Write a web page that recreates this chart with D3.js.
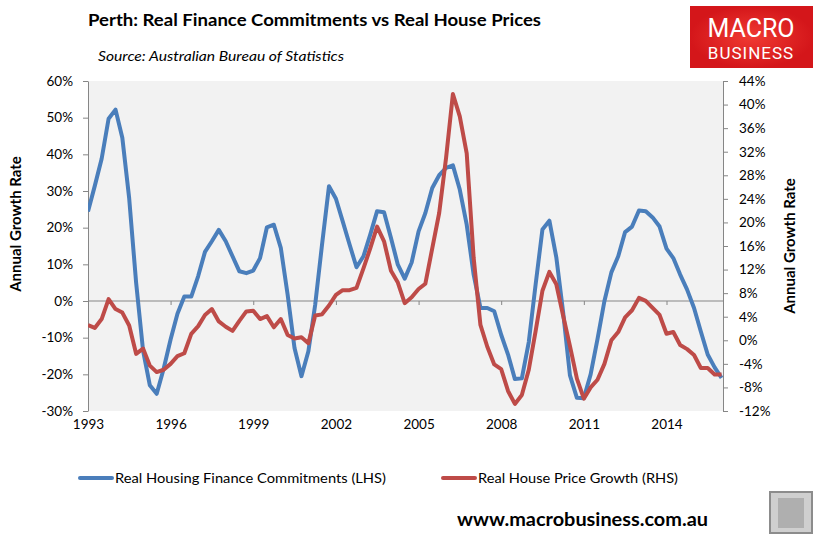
<!DOCTYPE html>
<html lang="en">
<head>
    <meta charset="UTF-8">
    <script src="https://d3js.org/d3.v7.min.js"></script>
    <style>
        body { margin: 0; background: #fff; font-family: Lato, "Open Sans", sans-serif; }
        .tick text { font-family: Lato, sans-serif; font-size: 13.5px; fill: #000; }
        .axis path, .axis line { stroke: #868686; }
    </style>
</head>
<body>
<div id="chart"></div>
<script>
// quarterly observations, Dec 1992 .. Dec 2015
const startQuarter = new Date(1992, 11, 1);
const endQuarter = new Date(2016, 0, 2);

// Real Housing Finance Commitments, annual growth % (LHS)
const financeGrowth = [
    24.4, 31.4, 38.8, 49.7, 52.2, 44.5, 28.0, 5.0, -13.5, -23.0,
    -25.3, -18.5, -10.5, -3.5, 1.2, 1.2, 6.8, 13.4, 16.3, 19.4,
    16.3, 12.2, 8.1, 7.6, 8.3, 11.7, 20.1, 20.8, 14.5, 1.7,
    -12.8, -20.5, -13.7, -1.0, 15.4, 31.3, 27.9, 21.7, 15.4, 9.2,
    12.2, 18.1, 24.5, 24.2, 17.2, 9.9, 6.1, 10.5, 19.0, 24.0,
    30.8, 34.3, 36.3, 37.0, 30.4, 20.8, 7.2, -1.9, -1.9, -2.8,
    -9.2, -14.6, -21.3, -21.1, -11.2, 4.4, 19.5, 21.9, 11.9, -3.0,
    -20.3, -26.4, -26.5, -20.0, -10.4, 0.0, 7.8, 12.2, 18.8, 20.3,
    24.7, 24.5, 22.8, 20.3, 14.3, 11.7, 7.2, 3.1, -1.9, -8.3,
    -14.6, -18.1, -21.0
];

// Real House Price Growth, annual % (RHS)
const priceGrowth = [
    2.6, 2.1, 3.6, 7.0, 5.3, 4.7, 2.5, -2.3, -1.4, -4.3,
    -5.4, -5.0, -4.0, -2.7, -2.2, 1.1, 2.4, 4.3, 5.3, 3.2,
    2.3, 1.6, 3.3, 4.9, 5.0, 3.6, 4.1, 2.2, 3.6, 0.9,
    0.3, 0.5, -0.5, 4.2, 4.4, 5.9, 7.7, 8.5, 8.5, 8.9,
    12.2, 15.6, 19.3, 16.8, 11.8, 9.8, 6.3, 7.3, 8.7, 9.6,
    15.6, 21.6, 31.0, 41.8, 38.0, 31.7, 14.0, 2.6, -1.1, -4.1,
    -4.9, -8.6, -10.8, -9.3, -5.0, 1.5, 8.4, 11.6, 9.5, 4.2,
    -1.0, -6.5, -9.9, -8.0, -6.7, -4.0, 0.0, 1.4, 3.9, 5.1,
    7.2, 6.7, 5.5, 4.3, 1.1, 1.4, -0.8, -1.5, -2.5, -4.7,
    -4.7, -5.8, -5.8
];

const xTickYears = [1993, 1996, 1999, 2002, 2005, 2008, 2011, 2014];
const leftTicks = [-30, -20, -10, 0, 10, 20, 30, 40, 50, 60];
const rightTicks = [-12, -8, -4, 0, 4, 8, 12, 16, 20, 24, 28, 32, 36, 40, 44];

const seriesNames = ["Real Housing Finance Commitments (LHS)", "Real House Price Growth (RHS)"];
const seriesColors = ["#4a7ebb", "#be4b48"];

const width = 820, height = 537;
const plot = {left: 88, right: 723, top: 81, bottom: 411};

const svg = d3.select("#chart").append("svg")
    .attr("width", width)
    .attr("height", height);

const dates = d3.timeMonth.every(3).range(startQuarter, endQuarter);
const financeData = dates.map((d, i) => ({date: d, value: financeGrowth[i]}));
const priceData = dates.map((d, i) => ({date: d, value: priceGrowth[i]}));

const x = d3.scaleTime()
    .domain([new Date(1993, 0, 1), new Date(2016, 0, 20)])
    .range([plot.left, plot.right]);
const yL = d3.scaleLinear().domain([-30, 60]).range([plot.bottom, plot.top]);
const yR = d3.scaleLinear().domain([-12, 44]).range([plot.bottom, plot.top]);

// plot background
svg.append("rect")
    .attr("x", plot.left).attr("y", plot.top)
    .attr("width", plot.right - plot.left)
    .attr("height", plot.bottom - plot.top)
    .attr("fill", "#f2f2f2");

svg.append("clipPath").attr("id", "clip")
    .append("rect")
    .attr("x", plot.left).attr("y", plot.top - 5)
    .attr("width", plot.right - plot.left)
    .attr("height", plot.bottom - plot.top + 10);

// left axis
svg.append("g")
    .attr("class", "axis")
    .attr("transform", `translate(${plot.left},0)`)
    .call(d3.axisLeft(yL).tickValues(leftTicks).tickSize(5).tickPadding(10)
        .tickSizeOuter(0).tickFormat(d => d + "%"));

// right axis
svg.append("g")
    .attr("class", "axis")
    .attr("transform", `translate(${plot.right},0)`)
    .call(d3.axisRight(yR).tickValues(rightTicks).tickSize(5).tickPadding(11)
        .tickSizeOuter(0).tickFormat(d => d + "%"));

// category axis crosses at 0 on the LHS scale
const xAxis = svg.append("g")
    .attr("class", "axis")
    .attr("transform", `translate(0,${yL(0)})`)
    .call(d3.axisBottom(x)
        .tickValues(xTickYears.map(yr => new Date(yr, 0, 1)))
        .tickSize(4).tickSizeOuter(0)
        .tickFormat(d3.timeFormat("%Y")));
xAxis.select(".domain").attr("d", `M${plot.left},0H${plot.right}`);
xAxis.selectAll(".tick text")
    .attr("y", plot.bottom - yL(0) + 18)
    .attr("dy", 0);

// lines
const lineL = d3.line().x(d => x(d.date)).y(d => yL(d.value));
const lineR = d3.line().x(d => x(d.date)).y(d => yR(d.value));

const lines = svg.append("g").attr("clip-path", "url(#clip)");
lines.append("path")
    .datum(financeData)
    .attr("d", lineL)
    .attr("fill", "none")
    .attr("stroke", seriesColors[0])
    .attr("stroke-width", 4)
    .attr("stroke-linejoin", "round");
lines.append("path")
    .datum(priceData)
    .attr("d", lineR)
    .attr("fill", "none")
    .attr("stroke", seriesColors[1])
    .attr("stroke-width", 4)
    .attr("stroke-linejoin", "round");

// axis titles
svg.append("text")
    .attr("transform", "translate(15,224) rotate(-90)")
    .attr("text-anchor", "middle")
    .attr("dominant-baseline", "central")
    .style("font-weight", "bold").style("font-size", "15px")
    .text("Annual Growth Rate");
svg.append("text")
    .attr("transform", "translate(789,246) rotate(-90)")
    .attr("text-anchor", "middle")
    .attr("dominant-baseline", "central")
    .style("font-weight", "bold").style("font-size", "15px")
    .text("Annual Growth Rate");

// title and source
svg.append("text")
    .attr("x", 88).attr("y", 26)
    .attr("textLength", 453).attr("lengthAdjust", "spacingAndGlyphs")
    .style("font-weight", "bold").style("font-size", "17px")
    .text("Perth: Real Finance Commitments vs Real House Prices");
svg.append("text")
    .attr("x", 98).attr("y", 61)
    .attr("textLength", 246).attr("lengthAdjust", "spacingAndGlyphs")
    .style("font-style", "italic").style("font-size", "13.5px")
    .text("Source: Australian Bureau of Statistics");

// legend
const legendX = [80, 443];
const legendW = [271, 200];
seriesNames.forEach((name, i) => {
    svg.append("line")
        .attr("x1", legendX[i]).attr("x2", legendX[i] + 32)
        .attr("y1", 478).attr("y2", 478)
        .attr("stroke", seriesColors[i]).attr("stroke-width", 4)
        .attr("stroke-linecap", "round");
    svg.append("text")
        .attr("x", legendX[i] + 35).attr("y", 483)
        .attr("textLength", legendW[i]).attr("lengthAdjust", "spacingAndGlyphs")
        .style("font-size", "14px")
        .text(name);
});

// MacroBusiness badge
const grad = svg.append("defs").append("radialGradient").attr("id", "badge");
grad.append("stop").attr("offset", "0%").attr("stop-color", "#f03a32");
grad.append("stop").attr("offset", "100%").attr("stop-color", "#d4161a");
svg.append("rect")
    .attr("x", 690).attr("y", 6).attr("width", 123).attr("height", 62)
    .attr("fill", "url(#badge)");
svg.append("text")
    .attr("x", 751).attr("y", 37)
    .attr("text-anchor", "middle")
    .attr("fill", "#fff")
    .style("font-size", "25px")
    .style("font-family", "'Liberation Sans Narrow', 'Roboto', sans-serif")
    .text("MACRO");
svg.append("text")
    .attr("x", 751).attr("y", 59)
    .attr("text-anchor", "middle")
    .attr("fill", "#fff")
    .style("font-size", "17px")
    .style("letter-spacing", "1px")
    .style("font-family", "'Liberation Sans Narrow', 'Roboto', sans-serif")
    .text("BUSINESS");

// footer
svg.append("text")
    .attr("x", 457).attr("y", 526)
    .attr("textLength", 251).attr("lengthAdjust", "spacingAndGlyphs")
    .style("font-weight", "bold").style("font-size", "19px")
    .text("www.macrobusiness.com.au");
svg.append("rect")
    .attr("x", 770).attr("y", 492).attr("width", 42).attr("height", 41)
    .attr("fill", "#cfcfcf").attr("stroke", "#8c8c8c").attr("stroke-width", 2);
svg.append("rect")
    .attr("x", 778).attr("y", 498).attr("width", 26).attr("height", 30)
    .attr("fill", "#9a9a9a").attr("opacity", 0.6);
</script>
</body>
</html>
